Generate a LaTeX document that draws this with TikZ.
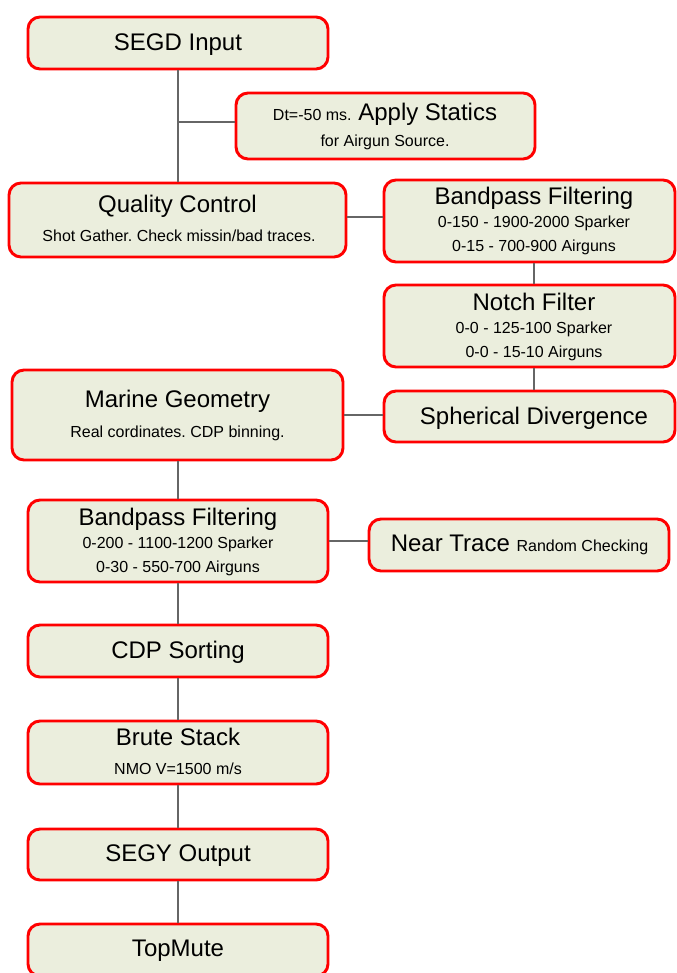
\documentclass[tikz,border=0pt]{standalone}
\usepackage{fontspec}
\setmainfont{Liberation Sans}
\frenchspacing
\definecolor{boxfill}{HTML}{EBEEDD}
\definecolor{boxred}{HTML}{FF0000}
\definecolor{linegray}{HTML}{666666}
\begin{document}
\begin{tikzpicture}[x=0.75pt,y=-0.75pt,
  box/.style 2 args={draw=boxred, line width=2.2pt, fill=boxfill, rounded corners=9pt,
    inner sep=0pt, minimum width=#1*0.75pt, minimum height=#2*0.75pt},
  conn/.style={draw=linegray, line width=1pt},
  ttl/.style={anchor=base, inner sep=0pt, font=\fontsize{18}{20}\selectfont},
  sml/.style={anchor=base, inner sep=0pt, font=\fontsize{12}{14}\selectfont}]
\useasboundingbox (0,0) rectangle (677,973);
\clip (0,0) rectangle (677,973);
\fill[white] (0,0) rectangle (677,973);

% boxes
\node[box={300}{52}] (segd) at (178,43) {};
\node[box={299}{66}] (stat) at (385.5,126) {};
\node[box={337}{74}] (qc) at (177.5,220) {};
\node[box={291}{82}] (bp1) at (529.5,221) {};
\node[box={291}{82}] (notch) at (529.5,326) {};
\node[box={291}{51}] (sph) at (529.5,416.5) {};
\node[box={331}{90}] (mg) at (177.5,415) {};
\node[box={300}{82}] (bp2) at (178,541) {};
\node[box={300}{52}] (near) at (519,545) {};
\node[box={300}{52}] (cdp) at (178,651) {};
\node[box={300}{63}] (brute) at (178,752.5) {};
\node[box={300}{51}] (segy) at (178,854.5) {};
\node[box={300}{52}] (topm) at (178,950) {};

% connectors
\path[conn] (segd.south) -- (segd.south |- qc.north);
\path[conn] ([yshift=3pt]stat.west) -- ([yshift=3pt]stat.west -| segd.south);
\path[conn] ([yshift=2.25pt]qc.east) -- ([yshift=2.25pt]qc.east -| bp1.west);
\path[conn] ([xshift=3.4pt]bp1.south) -- ([xshift=3.4pt]bp1.south |- notch.north);
\path[conn] ([xshift=3.4pt]notch.south) -- ([xshift=3.4pt]notch.south |- sph.north);
\path[conn] (mg.east) -- (mg.east -| sph.west);
\path[conn] (segd.south |- mg.south) -- (bp2.north);
\path[conn] (bp2.east) -- (bp2.east -| near.west);
\path[conn] (bp2.south) -- (cdp.north);
\path[conn] (cdp.south) -- (brute.north);
\path[conn] (brute.south) -- (segy.north);
\path[conn] (segy.south) -- (topm.north);

% texts
\node[ttl] (t1) at (178,50.7) {SEGD Input};
\node[ttl] (t2) at (385,120.7) {{\fontsize{12}{14}\selectfont Dt=-50 ms.} Apply Statics};
\node[sml] (t3) at (385,146.7) {for Airgun Source.};
\node[ttl] (t4) at (177.5,212.7) {Quality Control};
\node[sml] (t5) at (179,241.7) {Shot Gather. Check missin/bad traces.};
\node[ttl] (t6) at (534,204.3) {Bandpass Filtering};
\node[sml] (t7) at (534,227.3) {0-150 - 1900-2000 Sparker};
\node[sml] (t8) at (534,251.7) {0-15 - 700-900 Airguns};
\node[ttl] (t9) at (534,310.7) {Notch Filter};
\node[sml] (t10) at (534,333.3) {0-0 - 125-100 Sparker};
\node[sml] (t11) at (534,357.3) {0-0 - 15-10 Airguns};
\node[ttl] (t12) at (534,424) {Spherical Divergence};
\node[ttl] (t13) at (177.5,407.7) {Marine Geometry};
\node[sml] (t14) at (177.5,437.3) {Real cordinates. CDP binning.};
\node[ttl] (t15) at (178,525.7) {Bandpass Filtering};
\node[sml] (t16) at (178,548.3) {0-200 - 1100-1200 Sparker};
\node[sml] (t17) at (178,572.3) {0-30 - 550-700 Airguns};
\node[ttl] (t18) at (519.5,551.7) {Near Trace {\fontsize{12}{14}\selectfont Random Checking}};
\node[ttl] (t19) at (178,658.3) {CDP Sorting};
\node[ttl] (t20) at (178,745.7) {Brute Stack};
\node[sml] (t21) at (178,774) {NMO V=1500 m/s};
\node[ttl] (t22) at (178,861.7) {SEGY Output};
\node[ttl] (t23) at (178,956.7) {TopMute};
\end{tikzpicture}
\end{document}
